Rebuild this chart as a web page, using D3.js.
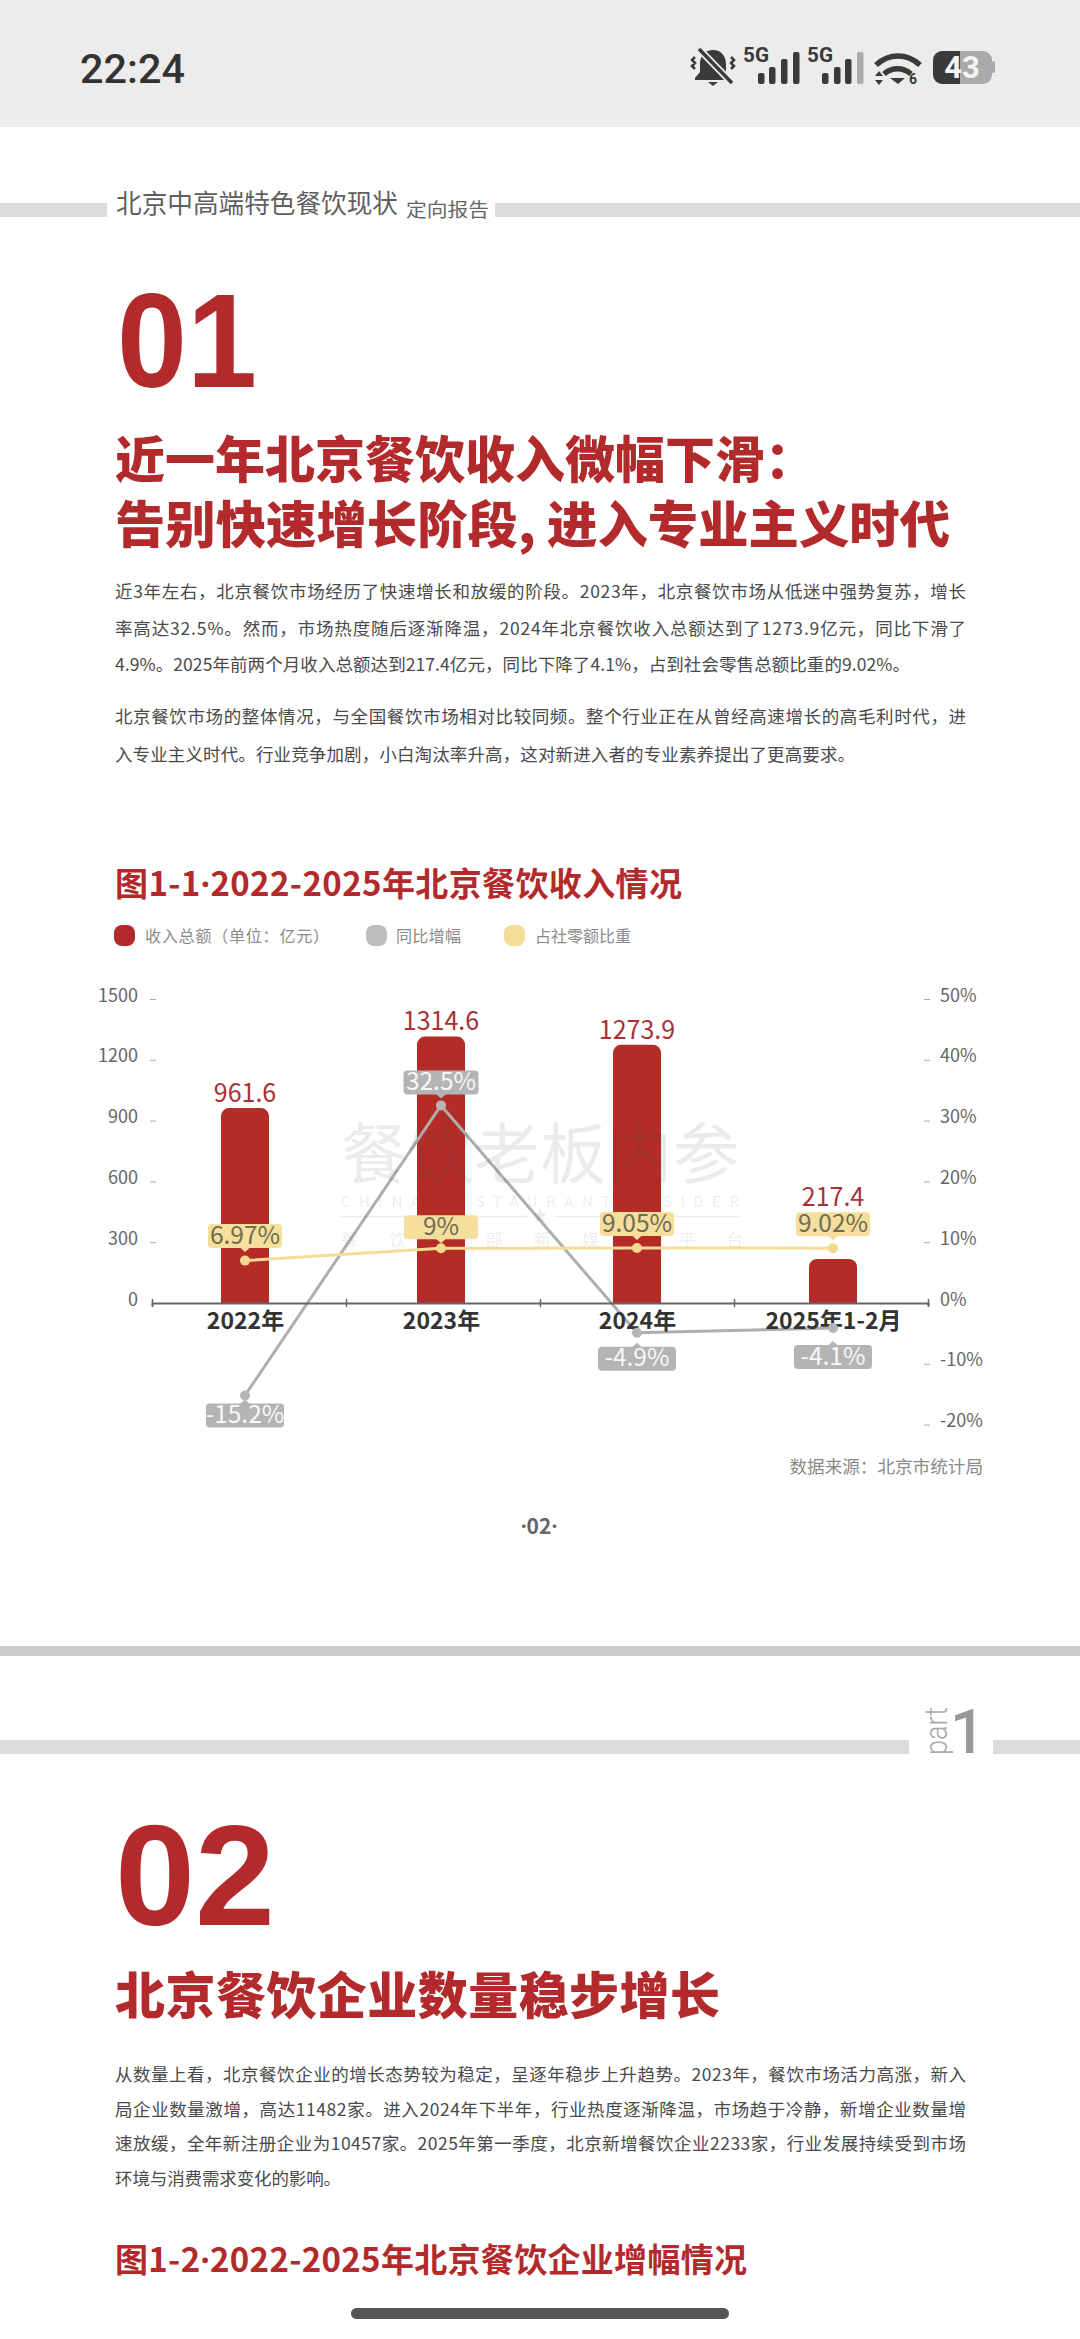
<!DOCTYPE html>
<html lang="zh">
<head>
<meta charset="utf-8">
<script src="https://cdn.jsdelivr.net/npm/d3@7/dist/d3.min.js"></script>
<style>
html,body{margin:0;padding:0;background:#fff;}
svg{display:block;}
text{font-family:"Noto Sans CJK SC","Noto Sans",sans-serif;}
</style>
</head>
<body>
<svg id="page" width="1080" height="2339" viewBox="0 0 1080 2339"></svg>
<script>
// ---- chart data ----
const categories = ["2022年", "2023年", "2024年", "2025年1-2月"];
const revenue = [961.6, 1314.6, 1273.9, 217.4];
const yoyGrowth = [-15.2, 32.5, -4.9, -4.1];
const retailShare = [6.97, 9, 9.05, 9.02];
const leftTicks = [0, 300, 600, 900, 1200, 1500];
const rightTicks = [-20, -10, 0, 10, 20, 30, 40, 50];
const legendNames = ["收入总额（单位：亿元）", "同比增幅", "占社零额比重"];

// ---- copy ----
const bodyOne = [
  "近3年左右，北京餐饮市场经历了快速增长和放缓的阶段。2023年，北京餐饮市场从低迷中强势复苏，增长",
  "率高达32.5%。然而，市场热度随后逐渐降温，2024年北京餐饮收入总额达到了1273.9亿元，同比下滑了",
  "4.9%。2025年前两个月收入总额达到217.4亿元，同比下降了4.1%，占到社会零售总额比重的9.02%。"
];
const bodyTwo = [
  "北京餐饮市场的整体情况，与全国餐饮市场相对比较同频。整个行业正在从曾经高速增长的高毛利时代，进",
  "入专业主义时代。行业竞争加剧，小白淘汰率升高，这对新进入者的专业素养提出了更高要求。"
];
const bodyThree = [
  "从数量上看，北京餐饮企业的增长态势较为稳定，呈逐年稳步上升趋势。2023年，餐饮市场活力高涨，新入",
  "局企业数量激增，高达11482家。进入2024年下半年，行业热度逐渐降温，市场趋于冷静，新增企业数量增",
  "速放缓，全年新注册企业为10457家。2025年第一季度，北京新增餐饮企业2233家，行业发展持续受到市场",
  "环境与消费需求变化的影响。"
];

// ---- layout ----
const RED = "#b22a2b", BAR = "#b32c26", GREY = "#b3b3b3", YEL = "#f5dd98";
const svg = d3.select("#page");
const txt = (g, s, x, y, size, fill, o = {}) => {
  const t = g.append("text").attr("x", x).attr("y", y).attr("font-size", size)
    .attr("fill", fill).attr("dy", ".35em").text(s);
  if (o.weight) t.attr("font-weight", o.weight);
  if (o.anchor) t.attr("text-anchor", o.anchor);
  if (o.family) t.style("font-family", o.family);
  if (o.len) t.attr("textLength", o.len).attr("lengthAdjust", o.adj || "spacing");
  return t;
};
// The middle dot must come from a Latin font, or it takes a full CJK width.
const dotted = (t) => {
  const parts = t.text().split("·");
  t.text(null);
  parts.forEach((p, i) => {
    if (i > 0) t.append("tspan").style("font-family", '"Noto Sans"').text("·");
    if (p) t.append("tspan").text(p);
  });
  return t;
};

// status bar
const status = svg.append("g");
status.append("rect").attr("width", 1080).attr("height", 127).attr("fill", "#ececec");
txt(status, "22:24", 80, 69, 40, "#333", {weight: 500, family: "Roboto", len: 105, adj: "spacingAndGlyphs"});
const dark = "#3a3a3a";
// muted bell
status.append("path").attr("fill", dark)
  .attr("d", "M713 50c-8 0-13 6-13 14v8l-5 6v2h36v-2l-5-6v-8c0-8-5-14-13-14zM708 82h10l-5 4z");
status.append("line").attr("x1", 699).attr("y1", 49).attr("x2", 732).attr("y2", 83)
  .attr("stroke", "#ececec").attr("stroke-width", 7);
status.append("line").attr("x1", 699).attr("y1", 49).attr("x2", 732).attr("y2", 83)
  .attr("stroke", dark).attr("stroke-width", 3.5);
status.append("path").attr("fill", "none").attr("stroke", dark).attr("stroke-width", 2.5)
  .attr("d", "M695 57l-3 3 3 3-3 3 3 3M731 57l3 3-3 3 3 3-3 3");
[[743, [758, 769, 781, 793], false], [807, [822, 834, 845, 857], true]].forEach(([tx, xs, fade]) => {
  txt(status, "5G", tx, 55, 20, dark, {weight: 700, family: "Roboto", len: 26, adj: "spacingAndGlyphs"});
  [73, 67, 59, 52].forEach((top, i) => {
    status.append("rect").attr("x", xs[i]).attr("y", top).attr("width", 6.5).attr("height", 84 - top)
      .attr("rx", 2).attr("fill", fade && i === 3 ? "#aaa" : dark);
  });
});
status.append("path").attr("fill", "none").attr("stroke", dark).attr("stroke-width", 5.5)
  .attr("d", "M876 65c13-12 31-12 44 0M884 74c8-7 19-7 27 0");
status.append("path").attr("fill", dark).attr("d", "M890 78h15l-7 6zM875 76l4-5 4 5zM875 80l4 5 4-5z");
txt(status, "6", 909, 79, 14, dark, {weight: 700, family: "Roboto"});
status.append("path").attr("fill", dark).attr("d", "M960 51h-18a9 9 0 0 0-9 9v15a9 9 0 0 0 9 9h18z");
status.append("path").attr("fill", "#aaa").attr("d", "M960 51h23a9 9 0 0 1 9 9v15a9 9 0 0 1-9 9h-23z");
status.append("rect").attr("x", 992).attr("y", 61).attr("width", 3).attr("height", 12).attr("rx", 1.5).attr("fill", "#aaa");
txt(status, "43", 962, 67, 31, "#f4f4f4", {weight: 700, family: "Roboto", anchor: "middle"});

// header band
svg.append("rect").attr("x", 0).attr("y", 203).attr("width", 107).attr("height", 14).attr("fill", "#dcdcdc");
svg.append("rect").attr("x", 495).attr("y", 203).attr("width", 585).attr("height", 14).attr("fill", "#dcdcdc");
txt(svg, "北京中高端特色餐饮现状", 116, 204, 26, "#5f5f5f", {len: 282, adj: "spacingAndGlyphs"});
txt(svg, "定向报告", 406, 210, 19, "#666", {len: 83, adj: "spacingAndGlyphs"});

// section 1 text
txt(svg, "01", 117, 340, 134, RED, {weight: 700, family: "Liberation Sans", len: 140, adj: "spacingAndGlyphs"});
txt(svg, "近一年北京餐饮收入微幅下滑：", 115, 460, 50, RED, {weight: 900});
txt(svg, "告别快速增长阶段, 进入专业主义时代", 115, 525, 50, RED, {weight: 900, len: 835, adj: "spacingAndGlyphs"});
const para = (lines, ys, widths) => lines.forEach((s, i) =>
  txt(svg, s, 115, ys[i], 17.5, "#4a4a4a", {len: widths[i], adj: "spacing"}));
para(bodyOne, [592, 629, 665], [851, 851, 795]);
para(bodyTwo, [717, 755], [851, 740]);

// figure title and legend
dotted(txt(svg, "图1-1·2022-2025年北京餐饮收入情况", 115, 884, 33, RED, {weight: 700, len: 567}));
[[114, RED, 145, 184], [366, "#bdbdbd", 396, 65], [504, YEL, 535, 96]].forEach(([x, c, tx, len], i) => {
  svg.append("rect").attr("x", x).attr("y", 925).attr("width", 21).attr("height", 21).attr("rx", 8).attr("fill", c);
  txt(svg, legendNames[i], tx, 936, 16, "#8a8a8a", {len});
});

// ---- chart ----
const x = d3.scalePoint().domain(categories).range([245, 833]);
const xEdges = d3.scalePoint().domain(d3.range(5)).range([152, 928]);
const yLeft = d3.scaleLinear().domain([0, 1500]).range([1303, 999]);
const yRight = d3.scaleLinear().domain([-20, 50]).range([1424.6, 999]);
const barW = 48;
const tagH = 24;
const shareGap = [12.5, 9, 12, 12];
const shareTagTop = i => yRight(retailShare[i]) - shareGap[i] - tagH;

const chart = svg.append("g");
const roundTop = (cx, top, base, r) => {
  const p = d3.path();
  const l = cx - barW / 2, rr = cx + barW / 2;
  p.moveTo(l, base); p.lineTo(l, top + r);
  p.arcTo(l, top, l + r, top, r); p.lineTo(rr - r, top);
  p.arcTo(rr, top, rr, top + r, r); p.lineTo(rr, base); p.closePath();
  return p.toString();
};
chart.selectAll(".bar").data(categories).join("path").attr("class", "bar").attr("fill", BAR)
  .attr("d", (c, i) => roundTop(x(c), yLeft(revenue[i]), yLeft(0), 8));
// A bar shorter than its share tag has its label lifted above the tag.
chart.selectAll(".barlabel").data(categories).join("text").attr("class", "barlabel")
  .attr("x", c => x(c))
  .attr("y", (c, i) => (yLeft(revenue[i]) > shareTagTop(i) ? shareTagTop(i) : yLeft(revenue[i])) - 15)
  .attr("dy", ".35em")
  .attr("text-anchor", "middle").attr("font-size", 25).attr("fill", "#a93034")
  .text((c, i) => revenue[i].toFixed(1));

// watermark (the third line's glyphs under the tags are hidden in the original)
const wm = svg.append("g");
const wmInk = "rgba(70,70,70,0.11)";
txt(wm, "餐饮老板内参", 341, 1155, 66, wmInk, {len: 398});
txt(wm, "CHINA RESTAURANT INSIDER", 341, 1202, 15, wmInk, {len: 398});
wm.append("path").attr("stroke", wmInk).attr("stroke-width", 1.5).attr("fill", "none")
  .attr("d", "M341 1216.5H527M554 1216.5H739");
wm.append("path").attr("d", d3.symbol(d3.symbolStar, 70)()).attr("fill", wmInk)
  .attr("transform", "translate(540,1216)");
"餐饮 部新媒 平台".split("").forEach((ch, i) => {
  if (ch !== " ") txt(wm, ch, 341 + i * 48.2, 1240, 17, wmInk);
});

// axes
const axLeft = d3.axisLeft(yLeft).tickValues(leftTicks).tickSize(6).tickFormat(d3.format("d"));
const gL = svg.append("g").attr("transform", "translate(156,0)").call(axLeft);
gL.select(".domain").remove();
gL.selectAll(".tick line").attr("stroke", d => d === 0 ? "none" : "#aaa");
gL.selectAll(".tick text").attr("x", -18).attr("dy", ".12em")
  .attr("font-size", 18).attr("fill", "#666").style("font-family", '"Noto Sans CJK SC"');

const axRight = d3.axisRight(yRight).tickValues(rightTicks).tickSize(6).tickFormat(d => d + "%");
const gR = svg.append("g").attr("transform", "translate(924,0)").call(axRight);
gR.select(".domain").remove();
gR.selectAll(".tick line").attr("stroke", d => d === 0 ? "none" : "#aaa");
gR.selectAll(".tick text").attr("x", 16).attr("dy", ".12em")
  .attr("font-size", 18).attr("fill", "#666").style("font-family", '"Noto Sans CJK SC"');

const axEdge = d3.axisBottom(xEdges).tickFormat("").tickSize(3);
const gE = svg.append("g").attr("transform", "translate(0,1303)").call(axEdge);
gE.select(".domain").attr("stroke", "#666").attr("stroke-width", 2);
gE.selectAll(".tick line").attr("y1", -4).attr("y2", 4).attr("stroke", "#666").attr("stroke-width", 1.5);

const axCat = d3.axisBottom(x).tickSize(0).tickPadding(10);
const gC = svg.append("g").attr("transform", "translate(0,1303)").call(axCat);
gC.select(".domain").remove();
gC.selectAll(".tick text").attr("font-size", 23).attr("font-weight", 700).attr("fill", "#333")
  .style("font-family", '"Noto Sans CJK SC"');

// lines
const lineOf = vals => d3.line().x((d, i) => x(categories[i])).y(d => yRight(d))(vals);
[[yoyGrowth, "#aeaeae"], [retailShare, YEL]].forEach(([vals, c]) => {
  chart.append("path").attr("d", lineOf(vals)).attr("fill", "none").attr("stroke", c).attr("stroke-width", 3);
});
const dots = svg.append("g");
[[yoyGrowth, "#b5b5b5"], [retailShare, "#f3d88e"]].forEach(([vals, c]) => {
  dots.selectAll(null).data(vals).join("circle")
    .attr("cx", (d, i) => x(categories[i])).attr("cy", d => yRight(d)).attr("r", 5).attr("fill", c);
});

// value tags
const drawTag = (g, cx, boxTop, w, label, fill, ink, tipTop) => {
  g.append("rect").attr("x", cx - w / 2).attr("y", boxTop).attr("width", w).attr("height", tagH)
    .attr("rx", 4).attr("fill", fill);
  const tipY = tipTop ? boxTop - 4 : boxTop + tagH + 4;
  const baseY = tipTop ? boxTop + 0.5 : boxTop + tagH - 0.5;
  g.append("path").attr("fill", fill).attr("d", `M${cx - 5} ${baseY}L${cx} ${tipY}L${cx + 5} ${baseY}Z`);
  txt(g, label, cx, boxTop + tagH / 2 - 1, 24.5, ink, {anchor: "middle"});
};
const tags = svg.append("g");
const yoyGap = [8, -11, 14, 17];
yoyGrowth.forEach((v, i) => {
  const cx = x(categories[i]), py = yRight(v), gap = yoyGap[i];
  const top = gap > 0 ? py + gap : py + gap - tagH;
  drawTag(tags, cx, top, v < 0 ? 78 : 75, v + "%", "#b4b4b4", "#f7f7f7", gap > 0);
});
retailShare.forEach((v, i) => {
  drawTag(tags, x(categories[i]), shareTagTop(i), 74, v + "%", "#f6de9c", "#6f6c52", false);
});

txt(svg, "数据来源：北京市统计局", 983, 1467, 17.6, "#8a8a8a", {anchor: "end"});
dotted(txt(svg, "·02·", 539, 1527, 21, "#666", {anchor: "middle", weight: 700}));

// page break and section 2
svg.append("rect").attr("x", 0).attr("y", 1646).attr("width", 1080).attr("height", 10).attr("fill", "#cccccc");
svg.append("rect").attr("x", 0).attr("y", 1740).attr("width", 909).attr("height", 14).attr("fill", "#dcdcdc");
svg.append("rect").attr("x", 993).attr("y", 1740).attr("width", 87).attr("height", 14).attr("fill", "#dcdcdc");
txt(svg, "part", 0, 0, 32, "#aaa", {family: "Roboto"}).attr("font-weight", 300)
  .attr("transform", "translate(936,1755) rotate(-90)").attr("textLength", 48).attr("lengthAdjust", "spacingAndGlyphs");
txt(svg, "1", 950, 1731, 62, "#999", {family: "Roboto", weight: 500});

txt(svg, "02", 115, 1875, 143, RED, {weight: 700, family: "Liberation Sans", len: 160, adj: "spacingAndGlyphs"});
txt(svg, "北京餐饮企业数量稳步增长", 115, 1996, 50, RED, {weight: 900, len: 605});
para(bodyThree, [2075, 2110, 2144, 2179], [851, 851, 851, 226]);
dotted(txt(svg, "图1-2·2022-2025年北京餐饮企业增幅情况", 115, 2260, 33, RED, {weight: 700, len: 632}));

// home indicator
svg.append("rect").attr("x", 351).attr("y", 2308).attr("width", 378).attr("height", 11).attr("rx", 5.5).attr("fill", "#555");
</script>
</body>
</html>
